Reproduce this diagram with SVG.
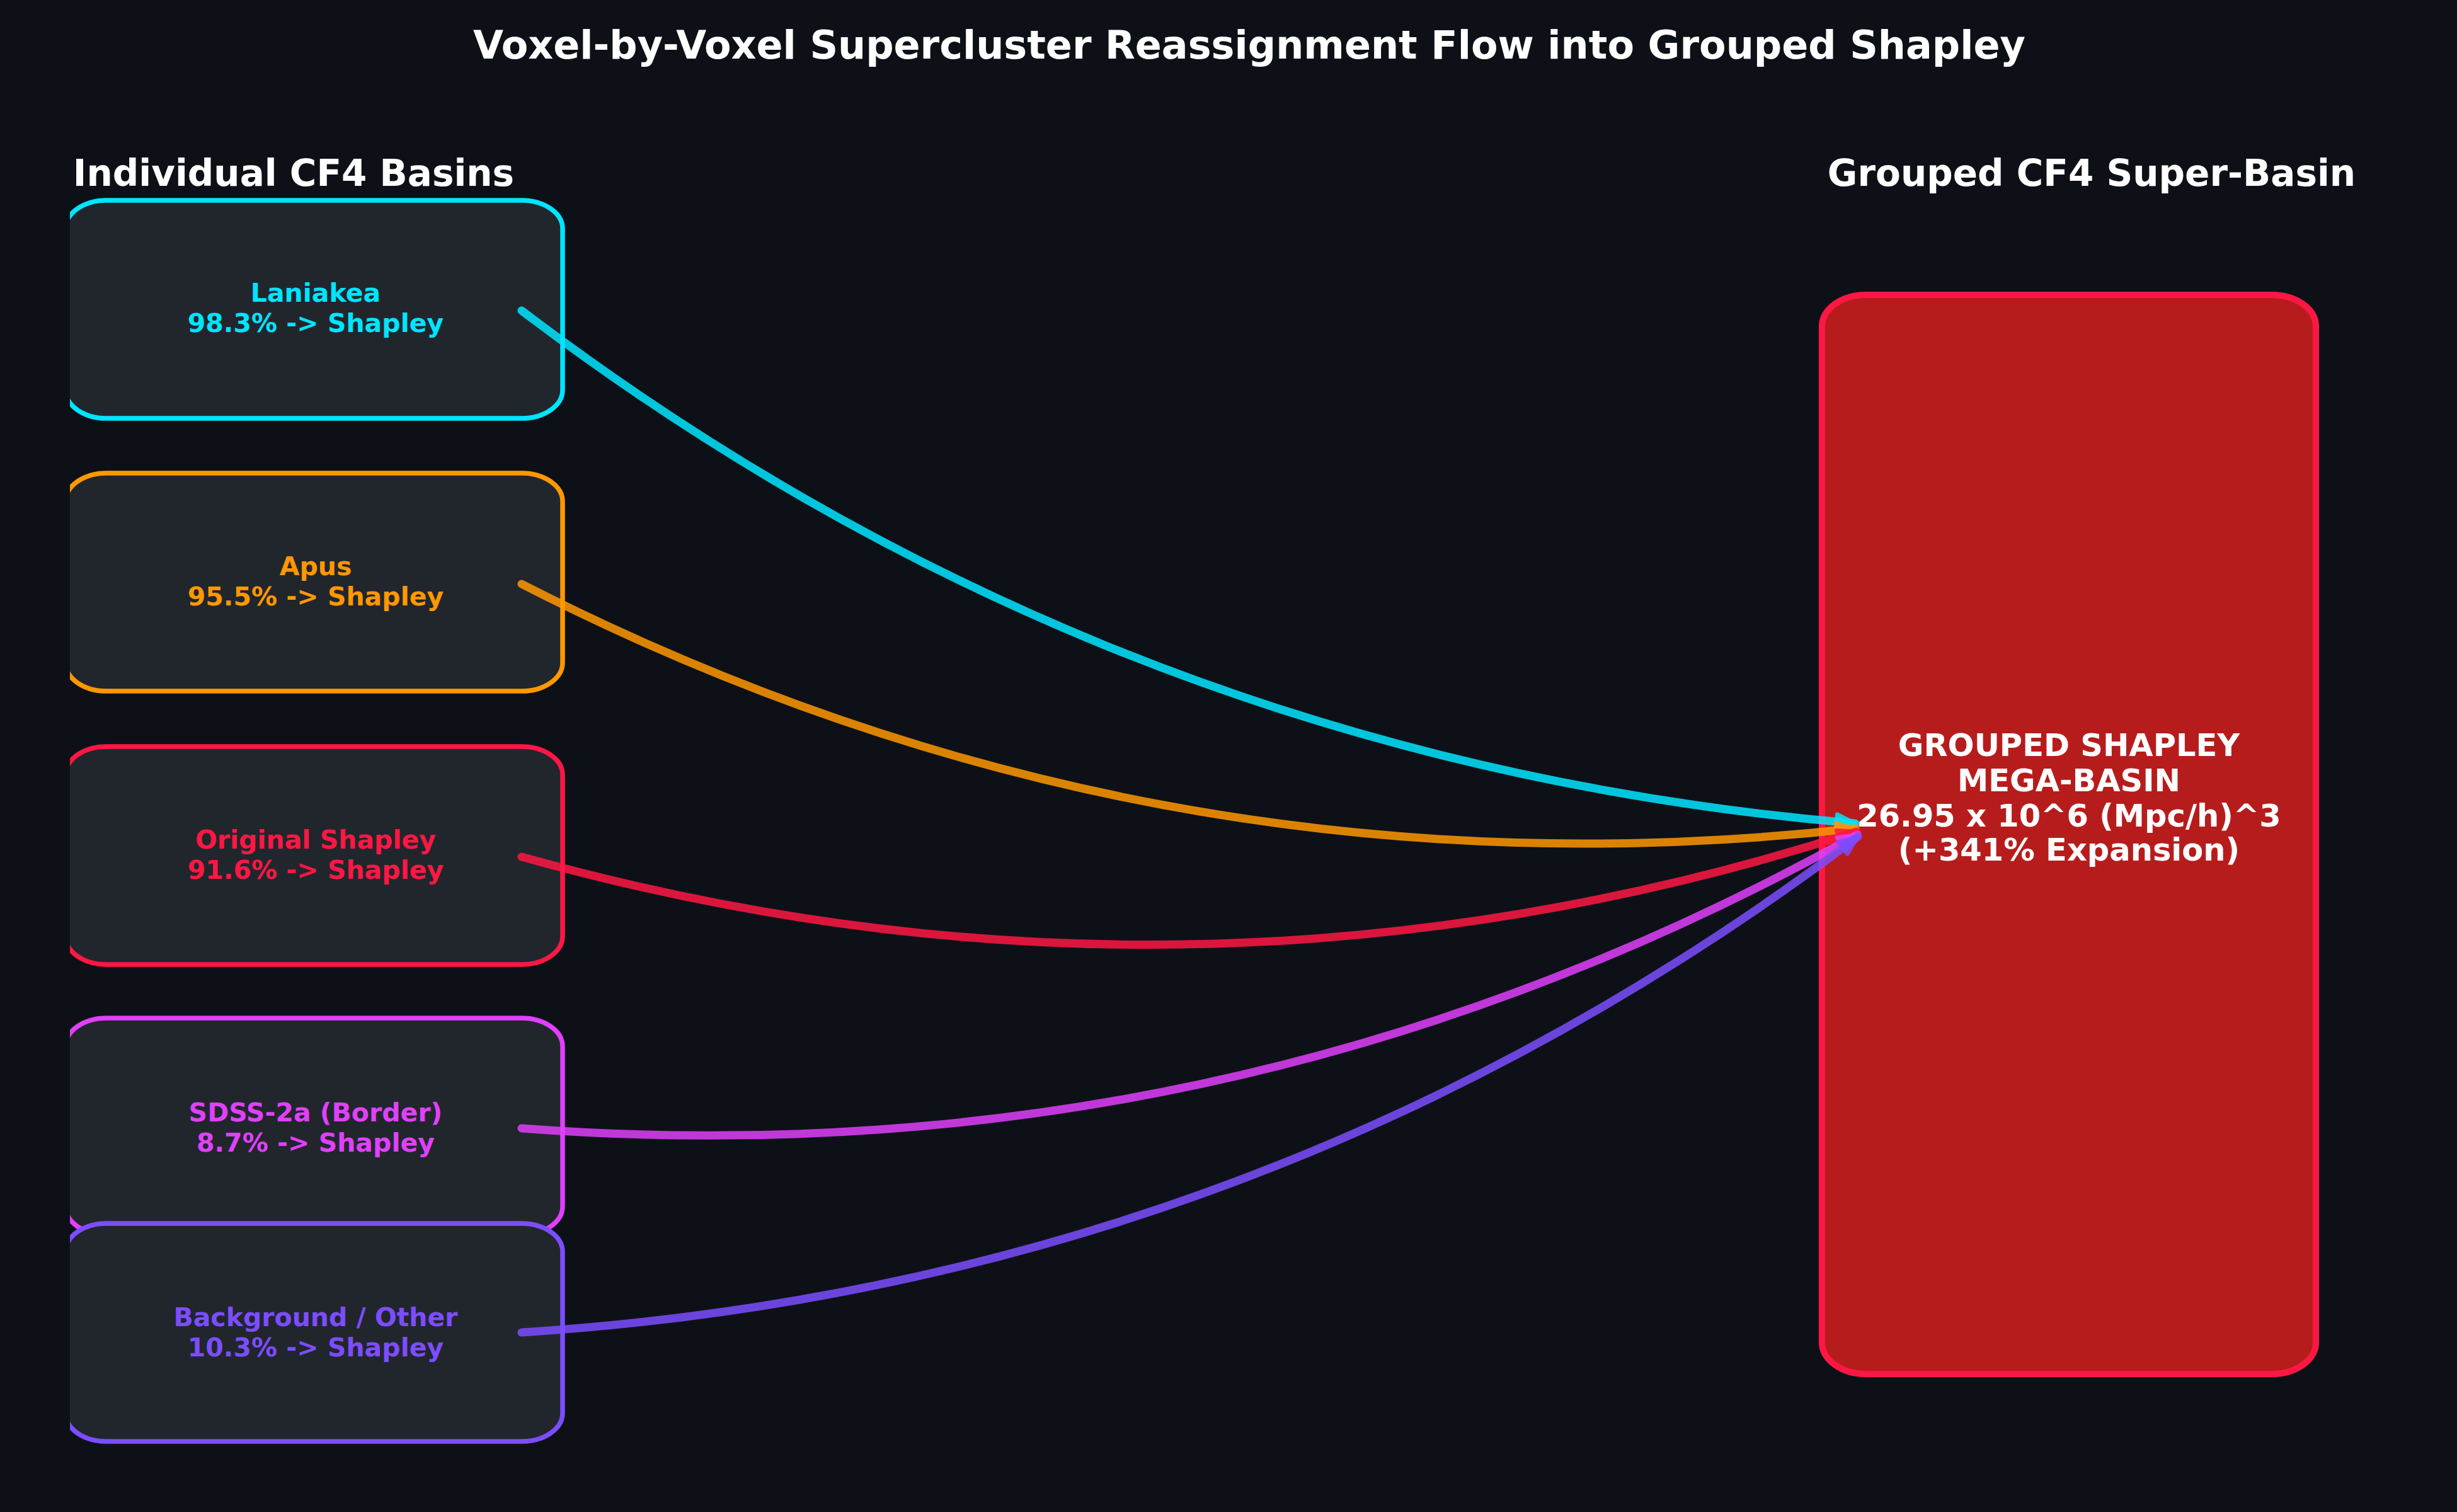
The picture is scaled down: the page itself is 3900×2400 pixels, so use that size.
<svg xmlns="http://www.w3.org/2000/svg" width="3900" height="2400" viewBox="0 0 3900 2400">
<style>
text{font-family:"DejaVu Sans","Liberation Sans",sans-serif;font-weight:bold;text-anchor:middle}
.title{font-size:62px;fill:#ffffff}
.hdr{font-size:58px;fill:#ffffff}
.lbl{font-size:41px}
.big{font-size:49.5px;fill:#ffffff}
.node rect{fill:#21262d;stroke-width:7.5}
.conn path{fill:none;stroke-width:13;stroke-linecap:round;stroke-opacity:0.85}
</style>
<defs>
<clipPath id="leftclip"><rect x="111" y="0" width="3789" height="2400"/></clipPath>
<marker id="ah-cyan" markerUnits="userSpaceOnUse" viewBox="-4 -4 38 32" refX="30" refY="12" markerWidth="38" markerHeight="32" orient="auto"><path d="M0,0 L30,12 L0,24 Z" fill="#00e5ff" stroke="#00e5ff" stroke-width="6" stroke-linejoin="round" opacity="0.85"/></marker>
<marker id="ah-orange" markerUnits="userSpaceOnUse" viewBox="-4 -4 38 32" refX="30" refY="12" markerWidth="38" markerHeight="32" orient="auto"><path d="M0,0 L30,12 L0,24 Z" fill="#ff9800" stroke="#ff9800" stroke-width="6" stroke-linejoin="round" opacity="0.85"/></marker>
<marker id="ah-red" markerUnits="userSpaceOnUse" viewBox="-4 -4 38 32" refX="30" refY="12" markerWidth="38" markerHeight="32" orient="auto"><path d="M0,0 L30,12 L0,24 Z" fill="#ff1744" stroke="#ff1744" stroke-width="6" stroke-linejoin="round" opacity="0.85"/></marker>
<marker id="ah-mag" markerUnits="userSpaceOnUse" viewBox="-4 -4 38 32" refX="30" refY="12" markerWidth="38" markerHeight="32" orient="auto"><path d="M0,0 L30,12 L0,24 Z" fill="#e040fb" stroke="#e040fb" stroke-width="6" stroke-linejoin="round" opacity="0.85"/></marker>
<marker id="ah-pur" markerUnits="userSpaceOnUse" viewBox="-4 -4 38 32" refX="30" refY="12" markerWidth="38" markerHeight="32" orient="auto"><path d="M0,0 L30,12 L0,24 Z" fill="#7c4dff" stroke="#7c4dff" stroke-width="6" stroke-linejoin="round" opacity="0.85"/></marker>
</defs>
<rect x="0" y="0" width="3900" height="2400" fill="#0d1117"/>
<text class="title" x="1983" y="93">Voxel-by-Voxel Supercluster Reassignment Flow into Grouped Shapley</text>
<text class="hdr" x="466" y="295">Individual CF4 Basins</text>
<text class="hdr" x="3320" y="295">Grouped CF4 Super-Basin</text>

<g clip-path="url(#leftclip)">
<g id="node-laniakea" class="node">
<rect x="104" y="318" width="789" height="346" rx="65" ry="45" stroke="#00e5ff"/>
<text class="lbl" x="501" y="479" fill="#00e5ff">Laniakea</text>
<text class="lbl" x="501" y="527" fill="#00e5ff">98.3% -&gt; Shapley</text>
</g>
<g id="node-apus" class="node">
<rect x="104" y="751" width="789" height="346" rx="65" ry="45" stroke="#ff9800"/>
<text class="lbl" x="501" y="913" fill="#ff9800">Apus</text>
<text class="lbl" x="501" y="961" fill="#ff9800">95.5% -&gt; Shapley</text>
</g>
<g id="node-original-shapley" class="node">
<rect x="104" y="1185" width="789" height="346" rx="65" ry="45" stroke="#ff1744"/>
<text class="lbl" x="501" y="1347" fill="#ff1744">Original Shapley</text>
<text class="lbl" x="501" y="1395" fill="#ff1744">91.6% -&gt; Shapley</text>
</g>
<g id="node-sdss" class="node">
<rect x="104" y="1616" width="789" height="344" rx="65" ry="45" stroke="#e040fb"/>
<text class="lbl" x="501" y="1780" fill="#e040fb">SDSS-2a (Border)</text>
<text class="lbl" x="501" y="1828" fill="#e040fb">8.7% -&gt; Shapley</text>
</g>
<g id="node-background" class="node">
<rect x="104" y="1942" width="789" height="346" rx="65" ry="45" stroke="#7c4dff"/>
<text class="lbl" x="501" y="2105" fill="#7c4dff">Background / Other</text>
<text class="lbl" x="501" y="2153" fill="#7c4dff">10.3% -&gt; Shapley</text>
</g>
</g>

<g id="node-grouped-shapley">
<rect x="2892" y="468" width="784" height="1713" rx="70" ry="50" fill="#b71c1c" stroke="#ff1744" stroke-width="10"/>
<text class="big" x="3284" y="1200">GROUPED SHAPLEY</text>
<text class="big" x="3284" y="1256">MEGA-BASIN</text>
<text class="big" x="3284" y="1312">26.95 x 10^6 (Mpc/h)^3</text>
<text class="big" x="3284" y="1366">(+341% Expansion)</text>
</g>

<g id="connectors" class="conn">
<path d="M828,493 Q1768.5,1207 2945,1307" stroke="#00e5ff" marker-end="url(#ah-cyan)"/>
<path d="M828,927 Q1828.3,1438.6 2945,1315" stroke="#ff9800" marker-end="url(#ah-orange)"/>
<path d="M828,1360 Q1893.5,1657.9 2947,1320" stroke="#ff1744" marker-end="url(#ah-red)"/>
<path d="M828,1791 Q1957.9,1876 2948,1325" stroke="#e040fb" marker-end="url(#ah-mag)"/>
<path d="M828,2115 Q2006.5,2039.7 2949,1328" stroke="#7c4dff" marker-end="url(#ah-pur)"/>
</g>
</svg>
